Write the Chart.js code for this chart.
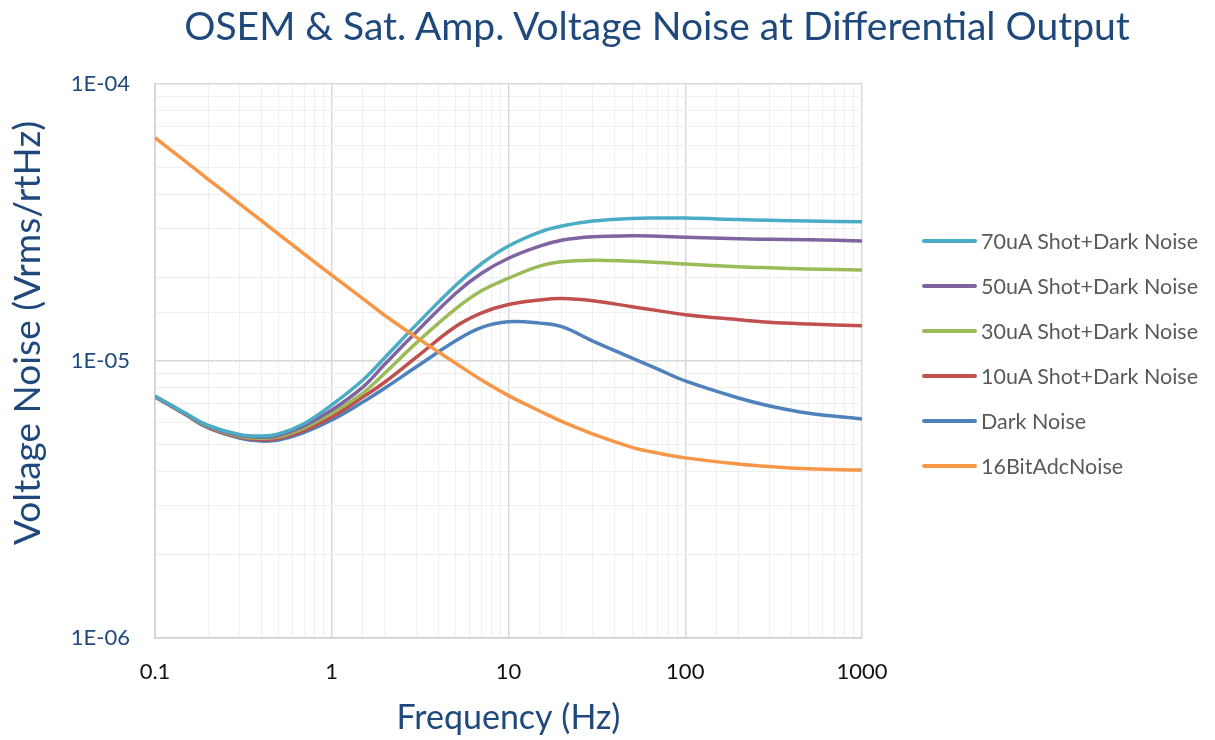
<!DOCTYPE html>
<html>
<head>
<meta charset="utf-8">
<script src="https://cdn.jsdelivr.net/npm/chart.js@4.4.1/dist/chart.umd.min.js"></script>
<style>
  body { margin: 0; background: #fff; font-family: Lato, "Open Sans", sans-serif; }
  #wrap { position: relative; width: 1215px; height: 740px; }
  #title { position: absolute; left: 157px; width: 1000px; top: 2px; text-align: center;
           font-size: 39px; color: #1F497D; line-height: 46px; white-space: nowrap; }
  #legend { position: absolute; left: 922px; top: 218px; }
  .item { height: 45px; display: flex; align-items: center; }
  .swatch { width: 55px; height: 4px; border-radius: 2px; margin-right: 4px; }
  .label { font-size: 21.5px; color: #595959; white-space: nowrap; }
</style>
</head>
<body>
<div id="wrap">
  <canvas id="chart" width="1215" height="740"></canvas>
  <div id="title">OSEM &amp; Sat. Amp. Voltage Noise at Differential Output</div>
  <div id="legend"></div>
</div>
<script>
// frequency points (Hz)
let freq = [0.1, 0.15, 0.2, 0.3, 0.4, 0.5, 0.7, 1, 1.5, 2, 3, 5, 7, 10, 15, 20, 30, 50, 70, 100, 200, 300, 500, 1000]

// noise values, Vrms/rtHz
let noise70uA = [7.48e-6, 6.46e-6, 5.85e-6, 5.43e-6, 5.36e-6, 5.45e-6, 5.95e-6, 6.94e-6, 8.54e-6, 1.03e-5, 1.35e-5, 1.87e-5, 2.24e-5, 2.60e-5, 2.92e-5, 3.07e-5, 3.20e-5, 3.27e-5, 3.28e-5, 3.28e-5, 3.24e-5, 3.22e-5, 3.20e-5, 3.18e-5]
let noise50uA = [7.46e-6, 6.44e-6, 5.82e-6, 5.39e-6, 5.31e-6, 5.38e-6, 5.84e-6, 6.65e-6, 8.05e-6, 9.75e-6, 1.27e-5, 1.75e-5, 2.07e-5, 2.35e-5, 2.60e-5, 2.73e-5, 2.81e-5, 2.83e-5, 2.82e-5, 2.80e-5, 2.76e-5, 2.75e-5, 2.74e-5, 2.71e-5]
let noise30uA = [7.45e-6, 6.42e-6, 5.79e-6, 5.35e-6, 5.26e-6, 5.32e-6, 5.74e-6, 6.49e-6, 7.66e-6, 9.05e-6, 1.16e-5, 1.54e-5, 1.79e-5, 1.99e-5, 2.20e-5, 2.28e-5, 2.31e-5, 2.29e-5, 2.27e-5, 2.24e-5, 2.19e-5, 2.17e-5, 2.15e-5, 2.13e-5]
let noise10uA = [7.43e-6, 6.40e-6, 5.76e-6, 5.31e-6, 5.20e-6, 5.25e-6, 5.62e-6, 6.28e-6, 7.41e-6, 8.40e-6, 1.03e-5, 1.33e-5, 1.49e-5, 1.60e-5, 1.66e-5, 1.68e-5, 1.65e-5, 1.57e-5, 1.52e-5, 1.47e-5, 1.41e-5, 1.38e-5, 1.36e-5, 1.34e-5]
let darkNoise = [7.41e-6, 6.38e-6, 5.73e-6, 5.27e-6, 5.14e-6, 5.18e-6, 5.52e-6, 6.12e-6, 7.11e-6, 7.99e-6, 9.51e-6, 1.18e-5, 1.32e-5, 1.385e-5, 1.37e-5, 1.33e-5, 1.18e-5, 1.025e-5, 9.35e-6, 8.47e-6, 7.35e-6, 6.88e-6, 6.48e-6, 6.18e-6]
let adcNoise = [6.4e-5, 5.23e-5, 4.53e-5, 3.70e-5, 3.21e-5, 2.87e-5, 2.43e-5, 2.04e-5, 1.68e-5, 1.46e-5, 1.22e-5, 9.84e-6, 8.55e-6, 7.5e-6, 6.6e-6, 6.05e-6, 5.45e-6, 4.88e-6, 4.65e-6, 4.47e-6, 4.25e-6, 4.16e-6, 4.08e-6, 4.04e-6]

let seriesNames = ['70uA Shot+Dark Noise', '50uA Shot+Dark Noise', '30uA Shot+Dark Noise', '10uA Shot+Dark Noise', 'Dark Noise', '16BitAdcNoise']
let seriesData = [noise70uA, noise50uA, noise30uA, noise10uA, darkNoise, adcNoise]
let seriesColors = ['#4BACC6', '#8064A2', '#9BBB59', '#C0504D', '#4F81BD', '#F79646']

// axis ranges / tick labels
let xMin = 0.1, xMax = 1000
let yMin = 1e-6, yMax = 1e-4
let xTickLabels = {'-1': '0.1', '0': '1', '1': '10', '2': '100', '3': '1000'}
let yTickLabels = {'-6': '1E-06', '-5': '1E-05', '-4': '1E-04'}
let yTitle = 'Voltage Noise (Vrms/rtHz)'

function isDecade(v) {
    let l = Math.log10(v)
    return Math.abs(l - Math.round(l)) < 1e-6
}
function decade(v) {
    return String(Math.round(Math.log10(v)))
}

let datasets = seriesNames.map((name, i) => ({
    label: name,
    data: freq.map((f, j) => ({x: f, y: seriesData[i][j]})),
    borderColor: seriesColors[i],
    backgroundColor: seriesColors[i],
    borderWidth: 3.5,
    pointRadius: 0,
    fill: false,
    tension: 0.4,
    // orange on top, like the original
    order: i == 5 ? 0 : i + 1
}))

let gridColor = c => isDecade(c.tick.value) ? '#d9d9d9' : '#efefef'
let gridWidth = c => isDecade(c.tick.value) ? 1.5 : 1

// y axis title sits a bit above the middle in the original, so draw it ourselves
const yTitlePlugin = {
    id: 'yTitle',
    afterDraw(chart) {
        const c = chart.ctx
        c.save()
        c.translate(28, 333)
        c.rotate(-Math.PI / 2)
        c.font = '37px Lato'
        c.fillStyle = '#1F497D'
        c.textAlign = 'center'
        c.textBaseline = 'middle'
        c.fillText(yTitle, 0, 0)
        c.restore()
    }
}

var ctx = document.getElementById('chart').getContext('2d')

var myChart = new Chart(ctx, {
    type: 'line',
    data: { datasets: datasets },
    plugins: [yTitlePlugin],
    options: {
        responsive: false,
        animation: false,
        layout: { padding: { top: 84, right: 353, bottom: 0, left: 0 } },
        plugins: {
            legend: { display: false },
            tooltip: { enabled: false }
        },
        scales: {
            x: {
                type: 'logarithmic',
                min: xMin,
                max: xMax,
                afterFit: s => { s.height = 102 },
                border: { color: '#d0d0d0', width: 1.5 },
                grid: { drawTicks: false, color: gridColor, lineWidth: gridWidth },
                ticks: {
                    autoSkip: false,
                    maxRotation: 0,
                    padding: 21,
                    color: '#111',
                    font: { family: 'Lato', size: 22, lineHeight: 1.2 },
                    callback: v => isDecade(v) ? xTickLabels[decade(v)] : ''
                },
                title: {
                    display: true,
                    text: 'Frequency (Hz)',
                    color: '#1F497D',
                    font: { family: 'Lato', size: 34, lineHeight: 1.0 },
                    padding: { top: 0, bottom: 5 }
                }
            },
            y: {
                type: 'logarithmic',
                min: yMin,
                max: yMax,
                afterFit: s => { s.width = 155 },
                border: { color: '#d0d0d0', width: 1.5 },
                grid: { drawTicks: false, color: gridColor, lineWidth: gridWidth },
                ticks: {
                    autoSkip: false,
                    padding: 25,
                    color: '#1F497D',
                    font: { family: 'Lato', size: 22, lineHeight: 1.2 },
                    callback: v => isDecade(v) ? yTickLabels[decade(v)] : ''
                }
            }
        }
    }
})

// html legend built from the series
let legendBox = document.getElementById('legend')
seriesNames.forEach((name, i) => {
    let item = document.createElement('div')
    item.className = 'item'
    item.innerHTML = '<div class="swatch" style="background:' + seriesColors[i] + '"></div><span class="label">' + name + '</span>'
    legendBox.appendChild(item)
})
</script>
</body>
</html>
